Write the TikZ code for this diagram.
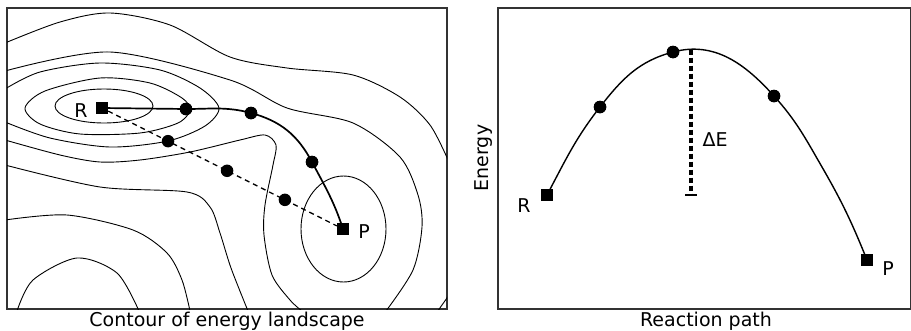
\documentclass[tikz,border=0pt]{standalone}
\usepackage{fontspec}
\setmainfont{DejaVu Sans}
\usetikzlibrary{positioning,calc}

\tikzset{
  panelframe/.style={draw=black!80, line width=1.1pt},
  contour/.style={line width=0.9pt},
  statebox/.style={fill=black, minimum size=12pt, inner sep=0pt},
  bead/.style={circle, fill=black, minimum size=12.5pt, inner sep=0pt},
  lbl/.style={font=\fontsize{19}{22}\selectfont, inner sep=0pt},
}

\begin{document}
\begin{tikzpicture}[x=1pt,y=-1pt]
  \useasboundingbox (0,0) rectangle (911,330);

  % left panel: contour map
  \draw[panelframe] (7,8) rectangle (447,309);
  \begin{scope}
    \clip (7,8) rectangle (447,309);
    \draw[contour] (104,106) ellipse [x radius=49, y radius=17];
    \draw[contour] plot[smooth cycle] coordinates {(25,108) (45,91) (100,78) (150,83) (182,98) (190,110) (178,123) (140,133) (80,134) (40,124)};
    \draw[contour] plot[smooth] coordinates {(5,89) (40,72) (100,63) (160,70) (200,88) (219,108) (205,126) (168,141) (110,147) (50,138) (5,122)};
    \draw[contour] plot[smooth] coordinates {(5,43) (60,22) (110,13) (170,25) (230,57) (287,68) (353,75) (400,97) (430,125) (449,162)};
    \draw[contour] plot[smooth] coordinates {(5,71) (110,52) (230,80) (287,108) (353,123) (400,157) (418,195) (422,227) (413,270) (386,311)};
    \draw[contour] plot[smooth] coordinates {(5,140) (60,155) (100,162) (140,160) (190,152) (240,140) (265,135) (276,145) (273,165) (265,205) (264,235) (272,275) (290,300) (302,311)};
    \draw[contour] plot[smooth] coordinates {(5,165) (100,187) (187,192) (210,207) (220,233) (231,268) (248,311)};
    \draw[contour] plot[smooth] coordinates {(5,220) (67,215) (133,230) (167,253) (182,280) (190,311)};
    \draw[contour] plot[smooth] coordinates {(17,311) (33,280) (77,258) (117,273) (139,311)};
    \draw[contour] (343.5,229) ellipse [x radius=42.5, y radius=53];
    \draw[contour] (438,311) to[out=60,in=-115] (449,294);
  \end{scope}

  \node[statebox] (lR) at (102,108) {};
  \node[statebox] (lP) at (343,229) {};
  \node[lbl, left=8pt of lR, yshift=-3pt] (tlR) {R};
  \node[lbl, right=9pt of lP, yshift=-3pt] (tlP) {P};

  % straight interpolation
  \draw[line width=1.3pt, dash pattern=on 5pt off 4pt] (lR) -- (lP);
  \node[bead] (d1) at ($(lR)!0.274!(lP)$) {};
  \node[bead] (d2) at ($(lR)!0.519!(lP)$) {};
  \node[bead] (d3) at ($(lR)!0.759!(lP)$) {};

  % converged path
  \node[bead] (s1) at (186,109) {};
  \node[bead] (s2) at (251,113) {};
  \node[bead] (s3) at (312,162) {};
  \draw[line width=1.7pt] (lR.center) -- (s1.center) to[out=0,in=165] (s2.center)
    to[out=-15,in=118] (s3.center) to[out=-62,in=108] (lP.center);
  \node[statebox] at (lR) {};
  \node[statebox] at (lP) {};
  \foreach \b in {s1,s2,s3} \node[bead] at (\b) {};

  \node[lbl, anchor=base] (capL) at (227,326) {Contour of energy landscape};

  % right panel: energy profile
  \draw[panelframe] (498,8) rectangle (910.5,309);
  \node[statebox] (rR) at (547,195) {};
  \node[statebox] (rP) at (867,260) {};
  \coordinate (top) at (691,49.5);
  \coordinate (slope) at (822,167);
  \node[bead] (e1) at (600,107) {};
  \node[bead] (e2) at (673,52) {};
  \node[bead] (e3) at (774,96) {};
  \draw[line width=1.4pt] (rR.center) to[out=62,in=-128] (e1.center)
    to[out=52,in=-165] (e2.center) to[out=15,in=132] (e3.center)
    to[out=-48,in=120] (slope) to[out=-60,in=112] (rP.center);
  \foreach \b in {e1,e2,e3} \node[bead] at (\b) {};
  \node[statebox] at (rR) {};
  \node[statebox] at (rP) {};

  \coordinate (base) at (top |- rR);
  \draw[line width=3.2pt, dash pattern=on 5pt off 3pt] (top) -- (base);
  \draw[line width=2.2pt] ($(base)+(-6,0)$) -- ($(base)+(6,0)$);
  \node[lbl] (dE) at (715,140) {ΔE};

  \node[lbl, left=10pt of rR, yshift=-11pt] (trR) {R};
  \node[lbl, right=9pt of rP, yshift=-9pt] (trP) {P};
  \node[lbl, rotate=90] (ylab) at (484,158) {Energy};
  \node[lbl, anchor=base] (capR) at (706,326) {Reaction path};
\end{tikzpicture}
\end{document}
